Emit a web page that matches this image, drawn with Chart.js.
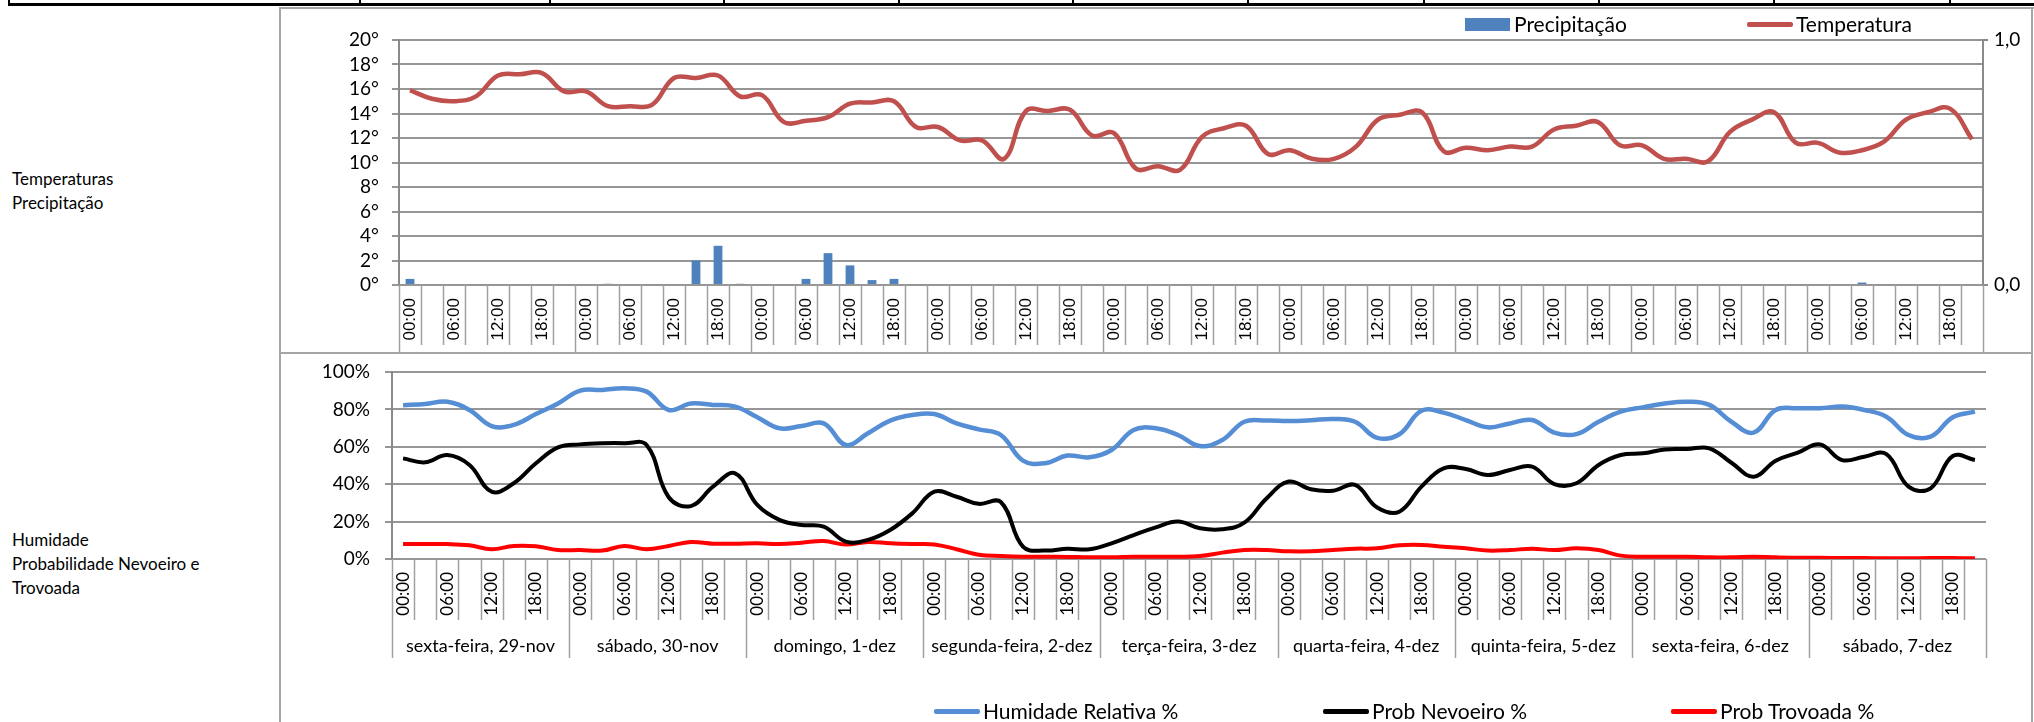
<!DOCTYPE html>
<html>
<head>
<meta charset="utf-8">
<script src="https://cdn.jsdelivr.net/npm/chart.js@4.4.1/dist/chart.umd.min.js"></script>
<style>
  html, body { margin:0; padding:0; background:#fff; }
  body { width:2034px; height:722px; position:relative; overflow:hidden; font-family: Lato, sans-serif; color:#000; }
  .abs { position:absolute; }
  .side { position:absolute; left:12px; font-size:17px; line-height:24px; white-space:nowrap; }
  .leg { position:absolute; display:flex; align-items:center; font-size:21px; line-height:22px; white-space:nowrap; }
  .sw-line { display:inline-block; width:46px; height:5px; border-radius:2px; margin-right:3px; }
  .sw-box { display:inline-block; width:45px; height:13px; margin-right:4px; }
  canvas { position:absolute; }
</style>
</head>
<body>
<!-- decorative sheet borders -->
<div class="abs" style="left:8px;top:3px;width:2026px;height:3px;background:#000"></div>
<div id="cols"></div>
<div class="abs" style="left:279px;top:7px;width:1755px;height:2px;background:#a6a6a6;z-index:2"></div>
<div class="abs" style="left:279px;top:7px;width:2px;height:715px;background:#a6a6a6;z-index:2"></div>
<div class="abs" style="left:2031px;top:7px;width:2px;height:715px;background:#a6a6a6;z-index:2"></div>
<div class="abs" style="left:279px;top:352px;width:1754px;height:2px;background:#a6a6a6;z-index:2"></div>

<div class="side" style="top:167px">Temperaturas<br>Precipitação</div>
<div class="side" style="top:528px">Humidade<br>Probabilidade Nevoeiro e<br>Trovoada</div>

<canvas id="cTop" width="1754" height="345" style="left:280px;top:8px"></canvas>
<canvas id="cBot" width="1754" height="379" style="left:280px;top:343px"></canvas>

<div class="leg" style="left:1465px;top:13px"><span class="sw-box" style="background:#4F81BD"></span><span id="lg1"></span></div>
<div class="leg" style="left:1747px;top:13px"><span class="sw-line" style="background:#C0504D"></span><span id="lg2"></span></div>
<div class="leg" style="left:934px;top:700px"><span class="sw-line" style="background:#558ED5"></span><span id="lg3"></span></div>
<div class="leg" style="left:1323px;top:700px"><span class="sw-line" style="background:#000"></span><span id="lg4"></span></div>
<div class="leg" style="left:1671px;top:700px"><span class="sw-line" style="background:#FF0000"></span><span id="lg5"></span></div>

<script>
// ---------- data ----------
const days = ['sexta-feira, 29-nov','sábado, 30-nov','domingo, 1-dez','segunda-feira, 2-dez','terça-feira, 3-dez','quarta-feira, 4-dez','quinta-feira, 5-dez','sexta-feira, 6-dez','sábado, 7-dez'];
const hours = ['00:00','03:00','06:00','09:00','12:00','15:00','18:00','21:00'];
const tempTicks = [0,2,4,6,8,10,12,14,16,18,20];
const pctTicks = [0,20,40,60,80,100];

const temperatura = [
  15.9,15.2,15.0,15.4,17.1,17.2,17.3,15.8,
  15.8,14.6,14.6,14.7,16.9,16.9,17.1,15.4,
  15.5,13.3,13.4,13.7,14.8,14.9,15.0,12.9,
  12.9,11.8,11.8,10.3,14.2,14.2,14.3,12.2,
  12.4,9.5,9.7,9.4,12.1,12.8,13.0,10.7,
  11.0,10.3,10.3,11.3,13.5,13.9,14.1,10.9,
  11.2,11.0,11.3,11.3,12.7,13.0,13.3,11.4,
  11.4,10.3,10.3,10.1,12.5,13.5,14.1,11.6,
  11.6,10.8,11.0,11.7,13.5,14.1,14.4,11.9
];
const precipitacao = [
  0.5,0,0,0,0,0,0,0,
  0,0.1,0,0,0,2.0,3.2,0.1,
  0,0,0.5,2.6,1.6,0.4,0.5,0,
  0,0,0,0,0,0,0,0,
  0,0,0,0,0,0,0,0,
  0,0,0,0,0,0,0,0,
  0,0,0,0,0,0,0,0,
  0,0,0,0,0,0,0,0,
  0,0,0.2,0,0,0,0,0
];
const humidade = [
  82.2,82.9,84.1,79.7,71.1,71.7,77.5,83.2,
  90.0,90.4,91.3,89.5,79.7,83.2,82.4,81.5,
  75.8,69.9,71.1,72.5,61.0,67.2,74.0,77.0,
  77.5,72.5,69.3,66.3,52.6,51.2,55.3,54.4,
  58.3,69.0,69.9,66.3,60.4,63.6,73.4,74.0,
  73.8,74.2,74.9,73.4,64.8,66.7,79.3,78.3,
  74.3,70.4,72.5,74.3,67.6,66.8,73.4,78.8,
  81.1,83.2,84.1,82.4,73.4,67.6,79.7,80.6,
  80.6,81.5,79.7,76.1,66.3,65.4,75.8,78.8
];
const nevoeiro = [
  53.8,51.7,55.6,50.3,36.0,40.5,51.2,59.7,
  61.3,61.9,61.9,61.0,33.0,28.3,38.7,45.8,
  28.9,20.9,18.2,17.3,9.3,10.2,15.5,24.4,
  36.0,33.3,29.5,30.5,6.6,4.5,5.5,5.2,
  8.4,12.8,16.9,20.0,16.4,15.9,19.4,32.4,
  41.4,37.3,36.5,39.6,27.5,25.3,38.7,48.5,
  48.1,44.9,47.6,49.4,40.1,40.5,50.3,55.6,
  56.5,58.6,58.8,59.2,51.5,44.0,52.6,56.9,
  61.3,52.9,54.7,56.1,38.7,37.8,55.1,52.9
];
const trovoada = [
  8.0,8.0,8.0,7.3,5.2,7.0,6.8,4.8,
  4.8,4.5,7.0,5.2,7.0,9.1,8.2,8.2,
  8.4,8.0,8.7,9.6,7.7,9.1,8.4,8.0,
  7.8,5.2,2.3,1.6,1.2,1.2,1.1,0.9,
  0.9,1.2,1.2,1.2,1.6,3.4,4.8,4.8,
  4.1,4.1,4.8,5.5,5.7,7.3,7.5,6.6,
  5.7,4.5,4.8,5.5,4.8,5.7,4.8,1.8,
  1.2,1.2,1.2,0.9,0.9,1.2,0.9,0.7,
  0.7,0.5,0.5,0.4,0.4,0.5,0.5,0.4
];
const sheetColumns = [8,359,549,723,898,1072,1247,1423,1598,1773,1949];

const timeLabels = days.flatMap(() => hours);

// sheet column ticks (decoration)
const cols = document.getElementById('cols');
sheetColumns.forEach(x => {
  const d = document.createElement('div');
  d.className = 'abs';
  d.style.cssText = `left:${x}px;top:0;width:2px;height:6px;background:#000`;
  cols.appendChild(d);
});

document.getElementById('lg1').textContent = 'Precipitação';
document.getElementById('lg2').textContent = 'Temperatura';
document.getElementById('lg3').textContent = 'Humidade Relativa %';
document.getElementById('lg4').textContent = 'Prob Nevoeiro %';
document.getElementById('lg5').textContent = 'Prob Trovoada %';

// ---------- chart setup ----------
Chart.defaults.color = '#000';
Chart.defaults.font.family = 'Lato, sans-serif';

const GRID = '#969696';
const AXIS = '#8a8a8a';

// category separator lines below the axis (Excel-style tick marks in label area)
const separators = {
  id: 'separators',
  afterDraw(chart, args, opts) {
    const x = chart.scales.x, area = chart.chartArea, ctx = chart.ctx;
    const n = chart.data.labels.length;
    const step = x.getPixelForValue(1) - x.getPixelForValue(0);
    ctx.save();
    ctx.strokeStyle = opts.color;
    ctx.lineWidth = opts.width;
    for (let i = 0; i <= n; i++) {
      const px = Math.round(x.getPixelForValue(i) - step / 2) + 0.5;
      const len = (i % hours.length === 0) ? opts.long : opts.short;
      ctx.beginPath();
      ctx.moveTo(px, area.bottom);
      ctx.lineTo(px, area.bottom + len);
      ctx.stroke();
    }
    ctx.restore();
  }
};

const everyOther = function (value, index) {
  return index % 2 === 0 ? this.getLabelForValue(value) : '';
};

new Chart(document.getElementById('cTop'), {
  data: {
    labels: timeLabels,
    datasets: [
      { type: 'line', label: 'Temperatura', data: temperatura, borderColor: '#C0504D', borderWidth: 4.5,
        pointRadius: 0, tension: 0.4, yAxisID: 'y', order: 0 },
      { type: 'bar', label: 'Precipitação', data: precipitacao, backgroundColor: '#4F81BD',
        barPercentage: 1.0, categoryPercentage: 0.4, yAxisID: 'y', order: 1 }
    ]
  },
  options: {
    responsive: false, animation: false,
    layout: { padding: { top: 32, left: 0, right: 0, bottom: 0 }, autoPadding: false },
    plugins: { legend: { display: false }, tooltip: { enabled: false },
      separators: { color: '#a0a0a0', width: 1.5, short: 60, long: 68 } },
    scales: {
      x: {
        type: 'category', offset: true,
        grid: { display: false, drawTicks: false }, border: { display: false },
        ticks: { autoSkip: false, maxRotation: 90, minRotation: 90, padding: 13,
                 font: { family: '"Liberation Sans", Arial, sans-serif', size: 17 }, callback: everyOther },
        afterFit: s => { s.height = 68; }
      },
      y: {
        position: 'left', min: 0, max: 20,
        afterBuildTicks: s => { s.ticks = tempTicks.map(v => ({ value: v })); },
        ticks: { autoSkip: false, padding: 13, font: { size: 19 }, callback: v => v + '°' },
        grid: { color: GRID, lineWidth: 2, tickLength: 7 },
        border: { color: AXIS, width: 2 },
        afterFit: s => { s.width = 119; }
      },
      y2: {
        position: 'right', min: 0, max: 1,
        ticks: { autoSkip: false, stepSize: 1, padding: 6, font: { size: 19 }, callback: v => v.toFixed(1).replace('.', ',') },
        grid: { drawOnChartArea: false, color: AXIS, lineWidth: 2, tickLength: 5 },
        border: { color: AXIS, width: 2 },
        afterFit: s => { s.width = 51; }
      }
    }
  },
  plugins: [separators]
});

new Chart(document.getElementById('cBot'), {
  type: 'line',
  data: {
    labels: timeLabels,
    datasets: [
      { label: 'Humidade Relativa %', data: humidade, borderColor: '#558ED5', borderWidth: 4.5, pointRadius: 0, tension: 0.4 },
      { label: 'Prob Nevoeiro %', data: nevoeiro, borderColor: '#000000', borderWidth: 4, pointRadius: 0, tension: 0.4 },
      { label: 'Prob Trovoada %', data: trovoada, borderColor: '#FF0000', borderWidth: 4, pointRadius: 0, tension: 0.4 }
    ]
  },
  options: {
    responsive: false, animation: false,
    layout: { padding: { top: 29, left: 0, right: 48, bottom: 52 }, autoPadding: false },
    plugins: { legend: { display: false }, tooltip: { enabled: false },
      separators: { color: '#a0a0a0', width: 1.5, short: 61, long: 99 } },
    scales: {
      x: {
        type: 'category', offset: true, weight: 0,
        grid: { display: false, drawTicks: false }, border: { display: false },
        ticks: { autoSkip: false, maxRotation: 90, minRotation: 90, padding: 13,
                 font: { size: 17 }, callback: everyOther },
        afterFit: s => { s.height = 61; }
      },
      xDays: {
        type: 'category', position: 'bottom', labels: days, offset: true, weight: 1,
        grid: { display: false, drawTicks: false }, border: { display: false },
        ticks: { autoSkip: false, maxRotation: 0, minRotation: 0, padding: 15, font: { size: 18 } },
        afterFit: s => { s.height = 50; }
      },
      y: {
        position: 'left', min: 0, max: 100,
        afterBuildTicks: s => { s.ticks = pctTicks.map(v => ({ value: v })); },
        ticks: { autoSkip: false, padding: 15, font: { size: 19 }, callback: v => v + '%' },
        grid: { color: GRID, lineWidth: 2, tickLength: 7 },
        border: { color: AXIS, width: 2 },
        afterFit: s => { s.width = 112; }
      }
    }
  },
  plugins: [separators]
});
</script>
</body>
</html>
